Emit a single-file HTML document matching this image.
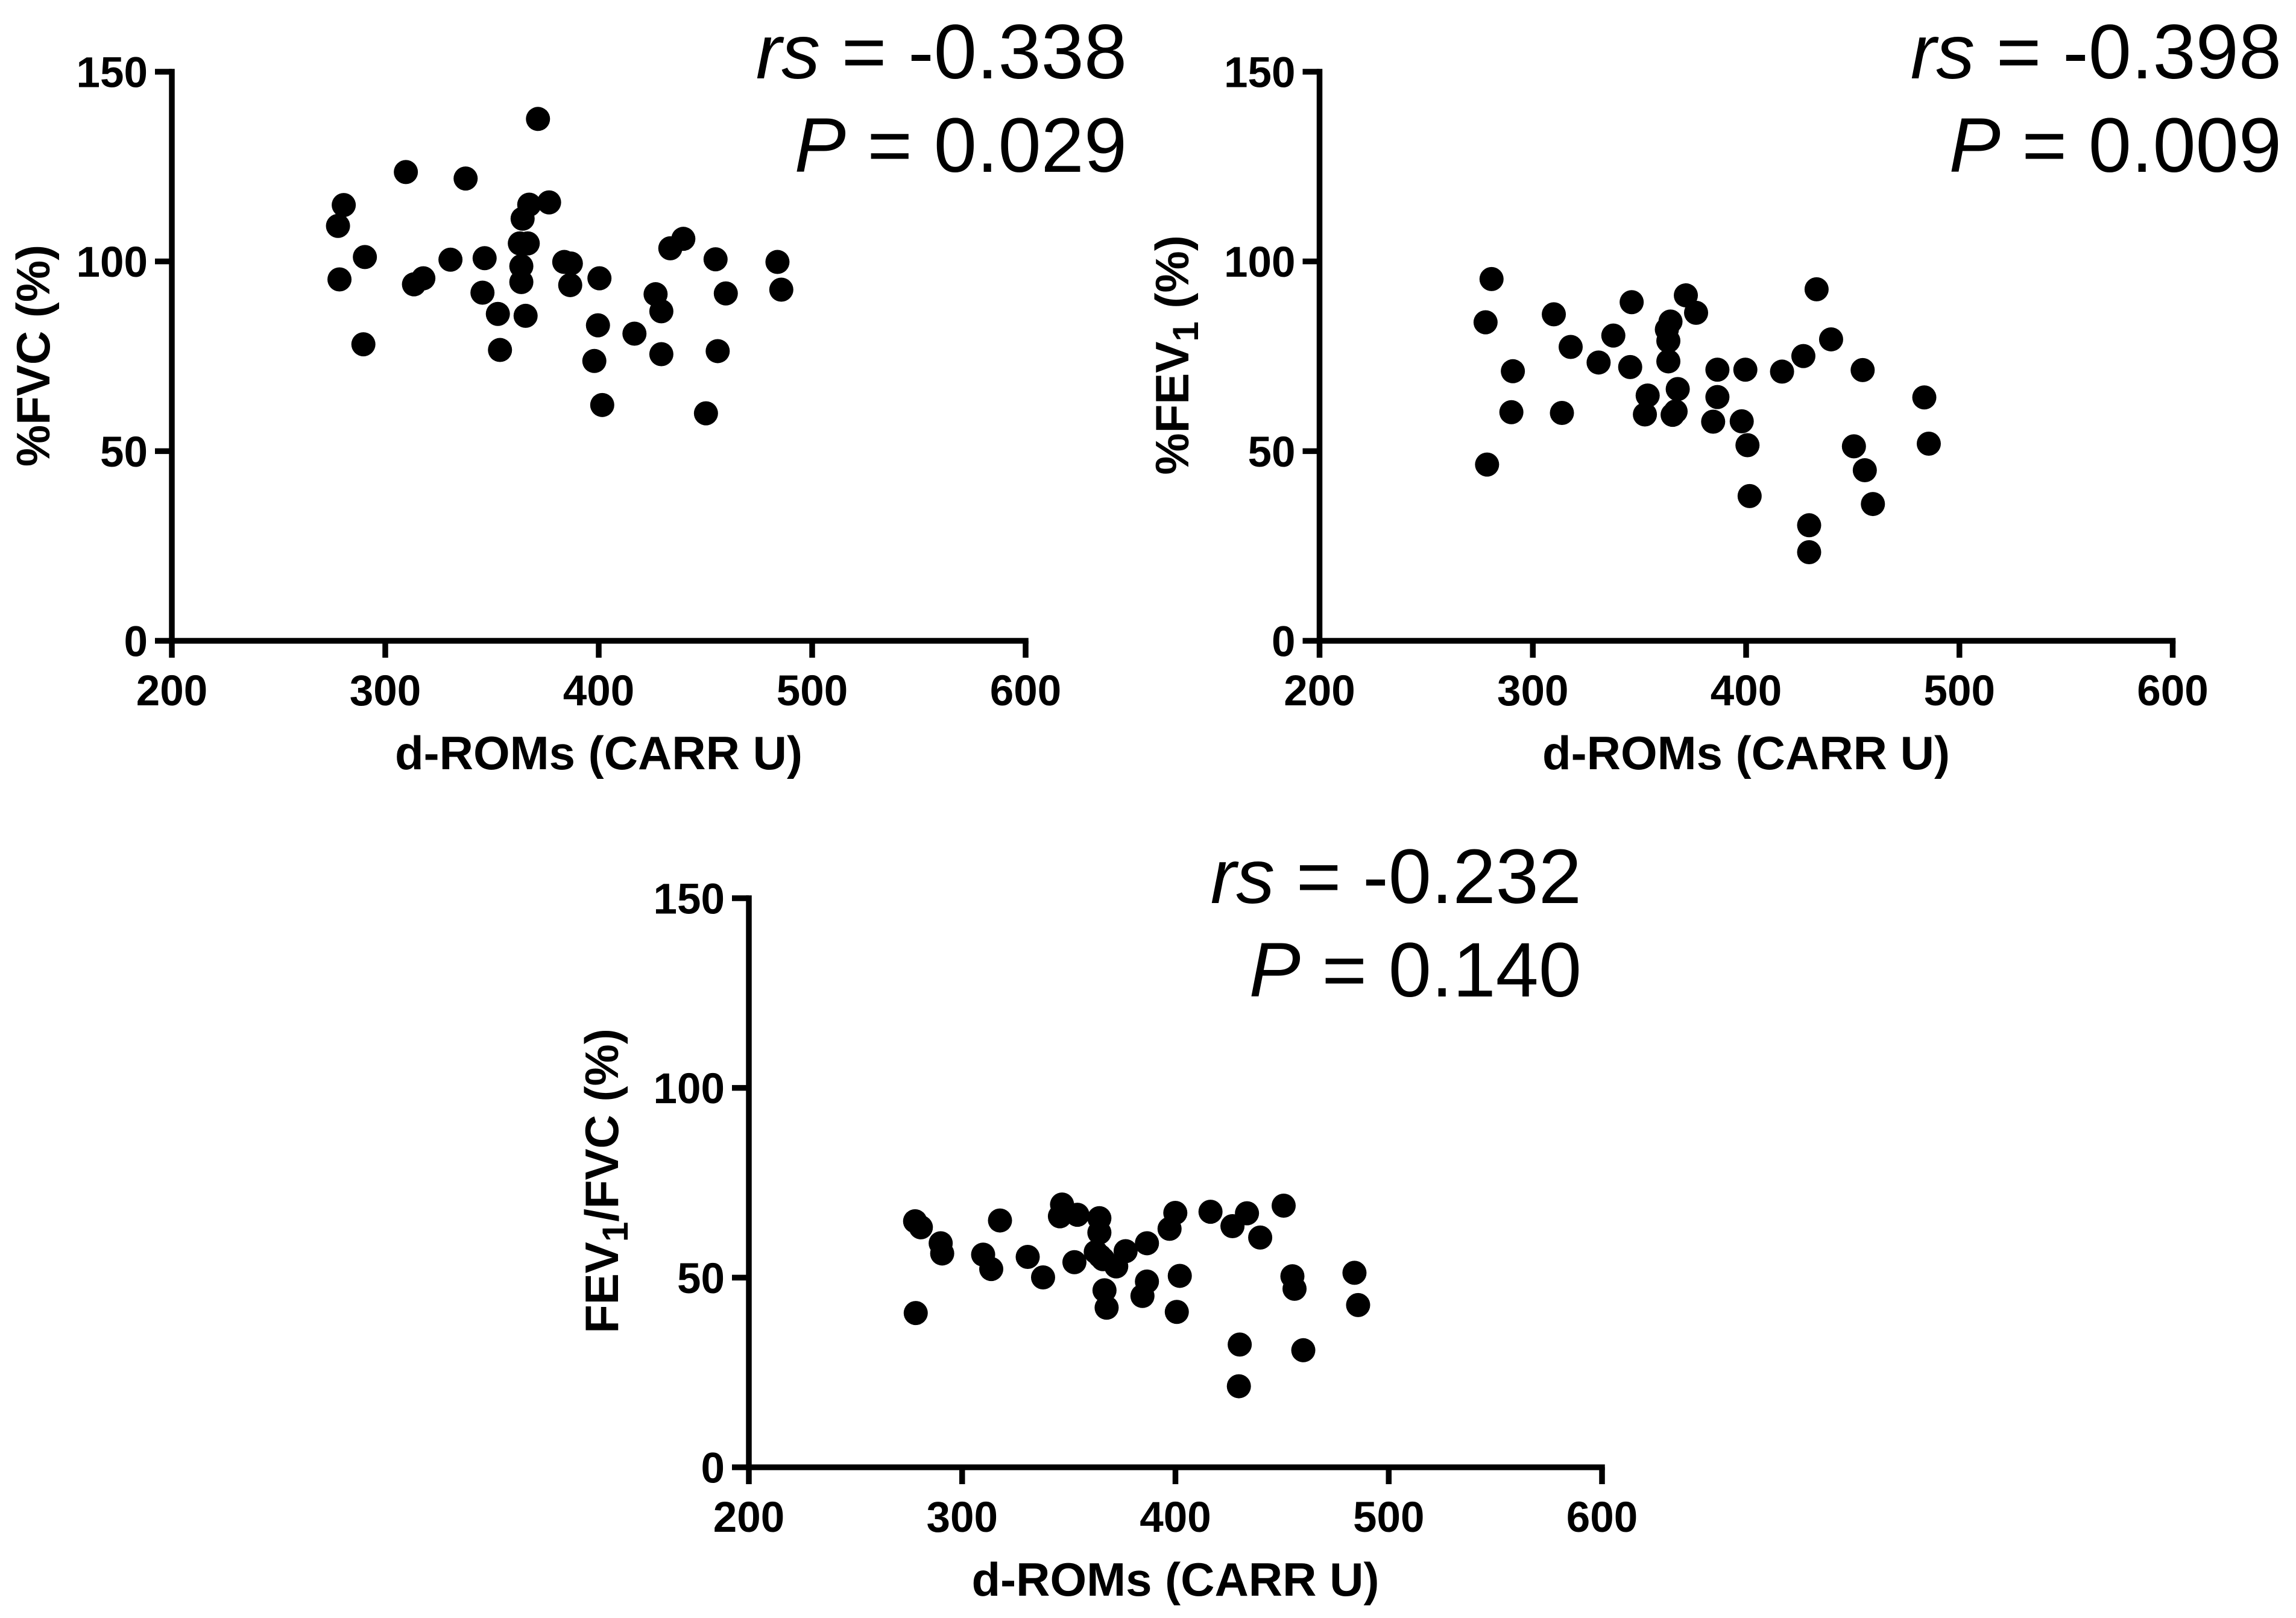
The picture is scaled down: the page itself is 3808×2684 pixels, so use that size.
<!DOCTYPE html>
<html lang="en">
<head>
<meta charset="utf-8">
<title>d-ROMs correlation scatter plots</title>
<style>
html,body{margin:0;padding:0;background:#fff;}
svg{display:block;}
text{font-family:"Liberation Sans",sans-serif;fill:#000;}
</style>
</head>
<body>
<svg id="figure" xmlns="http://www.w3.org/2000/svg" width="3808" height="2684" viewBox="0 0 3808 2684">
<rect x="0" y="0" width="3808" height="2684" fill="#fff"/>
</svg>
<script>
const xTicks = [200, 300, 400, 500, 600];
const yTicks = [0, 50, 100, 150];

const fvcX = [371.4,309.5,337.5,280.4,277.7,367.3,376.6,364.2,362.9,366.6,439.5,433.4,290.3,330.4,346.4,454.6,483.6,383.7,386.8,363.6,363.6,278.4,313.3,317.7,386.5,400.2,485.4,345.4,426.5,459.4,429.2,352.6,365.6,399.5,416.6,429.2,353.6,455.6,289.6,397.8,401.5,450.1];
const fvcY = [137.4,123.4,121.7,114.7,109.2,114.8,115.4,111.1,104.6,104.6,105.8,103.3,101,100.3,100.7,100.4,99.7,99.7,99.3,98.6,94.4,95.1,93.8,95.4,93.6,95.4,92.4,91.6,91.2,91.4,86.7,86,85.5,83,80.8,75.4,76.5,76.2,78,73.6,62,59.8];

const fevX = [280.5,371.6,346.2,432.9,376.4,309.7,277.7,364.4,362.7,363.4,337.6,317.6,439.7,426.7,330.7,363.4,345.5,290.5,386.4,399.5,416.7,454.5,367.8,353.7,386.4,483.4,289.8,313.5,352.4,365.4,366.8,384.4,397.8,400.5,450.4,485.5,455.5,278.4,401.5,459.3,429.4,429.4];
const fevY = [95.2,90.9,89.1,92.5,86.3,85.9,83.8,84,81.9,78.9,80.3,77.3,79.3,74.9,73.2,73.5,72,70.9,71.3,71.3,70.8,71.2,66.2,64.5,64.1,64,60.1,59.9,59.5,59.4,60.3,57.6,57.7,51.4,51.1,51.8,44.8,46.3,38,35.9,30.3,23.2];

const ratioX = [277.8,280.5,289.8,290.5,309.7,313.5,317.6,330.6,337.8,346.7,345.7,353.9,352.5,364.2,364.2,362.5,365.9,372.1,376.5,366.6,367.6,384.4,386.5,386.5,397.1,399.8,401.9,400.5,416.3,426.6,433.4,439.6,450.6,454.7,455.7,483.8,485.5,278.1,430,459.8,429.6,364.5];
const ratioY = [64.7,63.1,58.9,56.2,55.9,52.1,64.9,55.3,49.9,69.1,66,66.4,53.9,65.5,61.7,56.6,54.7,52.8,56.8,46.5,41.9,45,48.8,58.9,62.7,66.9,50.3,40.8,67.2,63.4,66.8,60.4,68.8,50.2,46.9,51.1,42.6,40.5,32.2,30.7,21.2,55.5];

const NS = 'http://www.w3.org/2000/svg';
const figure = document.getElementById('figure');

function make(parent, tag, attrs, text) {
  const el = document.createElementNS(NS, tag);
  for (const k in attrs) el.setAttribute(k, attrs[k]);
  if (text !== undefined) el.textContent = text;
  parent.appendChild(el);
  return el;
}

function drawChart(cfg) {
  const xScale = v => cfg.left + (v - 200) / 400 * cfg.width;
  const yScale = v => cfg.bottom - v / 150 * cfg.height;
  const SW = 9.5, TICK = 28, TICK_FS = 71, TITLE_FS = 78, STAT_FS = 128;

  const g = make(figure, 'g', {});
  
  

  const xAxis = make(g, 'g', {});
  
  
  const xLine = make(xAxis, 'line', {x1: xScale(200) - SW / 2, x2: xScale(600) + SW / 2, y1: yScale(0), y2: yScale(0), stroke: '#000', 'stroke-width': SW});
  
  
  xTicks.forEach(t => {
    const tick = make(xAxis, 'line', {x1: xScale(t), x2: xScale(t), y1: yScale(0), y2: yScale(0) + TICK, stroke: '#000', 'stroke-width': SW});
    
    
    const label = make(xAxis, 'text', {x: xScale(t), y: yScale(0) + 107, 'text-anchor': 'middle', 'font-size': TICK_FS, 'font-weight': 'bold'}, String(t));
    
    
  });
  const xTitle = make(xAxis, 'text', {x: xScale(400), y: yScale(0) + 213, 'text-anchor': 'middle', 'font-size': TITLE_FS, 'font-weight': 'bold'}, 'd-ROMs (CARR U)');
  
  

  const yAxis = make(g, 'g', {});
  
  
  const yLine = make(yAxis, 'line', {x1: xScale(200), x2: xScale(200), y1: yScale(150) - SW / 2, y2: yScale(0), stroke: '#000', 'stroke-width': SW});
  
  
  yTicks.forEach(t => {
    const tick = make(yAxis, 'line', {x1: xScale(200) - TICK, x2: xScale(200), y1: yScale(t), y2: yScale(t), stroke: '#000', 'stroke-width': SW});
    
    
    const label = make(yAxis, 'text', {x: xScale(200) - 40, y: yScale(t) + 25.5, 'text-anchor': 'end', 'font-size': TICK_FS, 'font-weight': 'bold'}, String(t));
    
    
  });
  const yTitle = make(yAxis, 'text', {transform: 'translate(' + cfg.yTitleX + ',' + cfg.yTitleY + ') rotate(-90)', 'text-anchor': 'middle', 'font-size': TITLE_FS, 'font-weight': 'bold'});
  
  
  cfg.yTitleParts.forEach(p => {
    if (p === '1') {
      make(yTitle, 'tspan', {'font-size': 60, dy: 16}, p);
    } else {
      const attrs = yTitle.childNodes.length && yTitle.lastChild.textContent === '1' ? {dy: -16} : {};
      make(yTitle, 'tspan', attrs, p);
    }
  });

  const points = make(g, 'g', {fill: '#000', transform: 'translate(0.5,-1)'});
  
  
  cfg.xs.forEach((x, i) => {
    const dot = make(points, 'circle', {cx: xScale(x), cy: yScale(cfg.ys[i]), r: 20});
    
    
  });

  const rs = make(g, 'text', {x: cfg.statX, y: cfg.statY, 'text-anchor': 'end', 'font-size': STAT_FS});
  
  
  make(rs, 'tspan', {'font-style': 'italic'}, 'rs');
  make(rs, 'tspan', {}, ' = ' + cfg.rs);

  const p = make(g, 'text', {x: cfg.statX, y: cfg.statY + 155, 'text-anchor': 'end', 'font-size': STAT_FS});
  
  
  make(p, 'tspan', {'font-style': 'italic'}, 'P');
  make(p, 'tspan', {}, ' = ' + cfg.p);
}

drawChart({name: 'fvc', left: 285, width: 1416, bottom: 1063, height: 944, xs: fvcX, ys: fvcY,
  yTitleX: 82, yTitleY: 590, yTitleParts: ['%FVC (%)'], statX: 1869, statY: 130, rs: '-0.338', p: '0.029'});
drawChart({name: 'fev1', left: 2188.5, width: 1415, bottom: 1063, height: 944, xs: fevX, ys: fevY,
  yTitleX: 1971, yTitleY: 589, yTitleParts: ['%FEV', '1', ' (%)'], statX: 3784, statY: 130, rs: '-0.398', p: '0.009'});
drawChart({name: 'fev1-fvc-ratio', left: 1242, width: 1415, bottom: 2434, height: 944, xs: ratioX, ys: ratioY,
  yTitleX: 1025, yTitleY: 1959, yTitleParts: ['FEV', '1', '/FVC (%)'], statX: 2623, statY: 1498, rs: '-0.232', p: '0.140'});
</script>
</body>
</html>
